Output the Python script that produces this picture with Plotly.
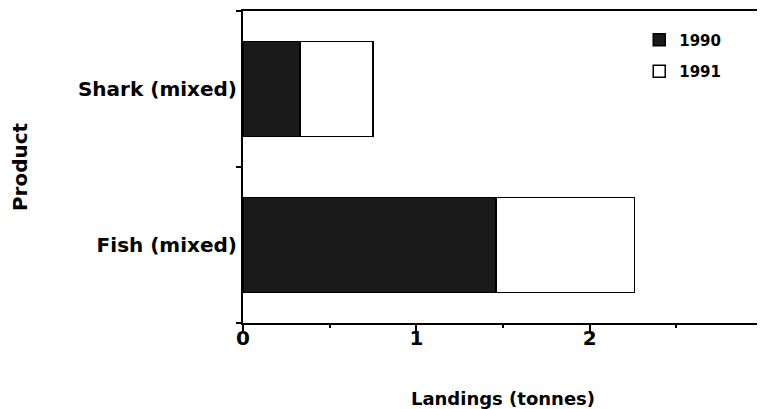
import plotly.graph_objects as go

products = ["Fish (mixed)", "Shark (mixed)"]
landings_1990 = [1.46, 0.33]
landings_1991 = [0.80, 0.42]
series_names = ["1990", "1991"]
x_ticks = [0, 1, 2, 3]

FONT = "DejaVu Sans"

fig = go.Figure()
fig.add_trace(go.Bar(
    y=products, x=landings_1990, name=series_names[0], orientation="h",
    marker=dict(color="#1a1a1a", line=dict(color="#000000", width=1.5)),
    width=0.61, legendgroup="a",
))
fig.add_trace(go.Bar(
    y=products, x=landings_1991, name=series_names[1], orientation="h",
    marker=dict(color="#ffffff", line=dict(color="#000000", width=1.5)),
    width=0.61, legendgroup="b",
))

# page body has an 8px default margin, so the figure is offset by 8px
fig.update_layout(
    barmode="stack",
    width=757, height=401,
    margin=dict(l=235, r=2, t=3, b=86, autoexpand=False),
    paper_bgcolor="white", plot_bgcolor="white",
    font=dict(family=FONT, color="black"),
    showlegend=True,
    legend=dict(
        x=0.762, y=0.96, xanchor="left", yanchor="top",
        traceorder="grouped", tracegroupgap=9,
        font=dict(family=FONT, size=15, color="black", weight="bold"),
        bgcolor="rgba(0,0,0,0)",
    ),
    xaxis=dict(
        range=[0, 3], tickvals=x_ticks, ticktext=[str(v) for v in x_ticks],
        showgrid=False, zeroline=False, automargin=False,
        showline=True, linecolor="black", linewidth=2, mirror=True,
        ticks="outside", ticklen=7, tickwidth=2, tickcolor="black",
        ticklabeloverflow="allow", ticklabelstandoff=-11,
        minor=dict(dtick=0.5, ticks="outside", ticklen=3, tickwidth=1.5, tickcolor="black", showgrid=False),
        tickfont=dict(family=FONT, size=20, color="black", weight="bold"),
        title=dict(text="Landings (tonnes)", standoff=43,
                   font=dict(family=FONT, size=18, color="black", weight="bold")),
    ),
    yaxis=dict(
        type="category", categoryorder="array", categoryarray=products,
        range=[-0.5, 1.5], automargin=False,
        showgrid=False, zeroline=False,
        showline=True, linecolor="black", linewidth=2, mirror=True,
        ticks="outside", ticklen=5, tickwidth=1.5, tickcolor="black",
        tickson="boundaries",
        tickfont=dict(family=FONT, size=20, color="black", weight="bold"),
        title=dict(text="Product", standoff=66,
                   font=dict(family=FONT, size=20, color="black", weight="bold")),
    ),
)

fig.write_html("out.html")
